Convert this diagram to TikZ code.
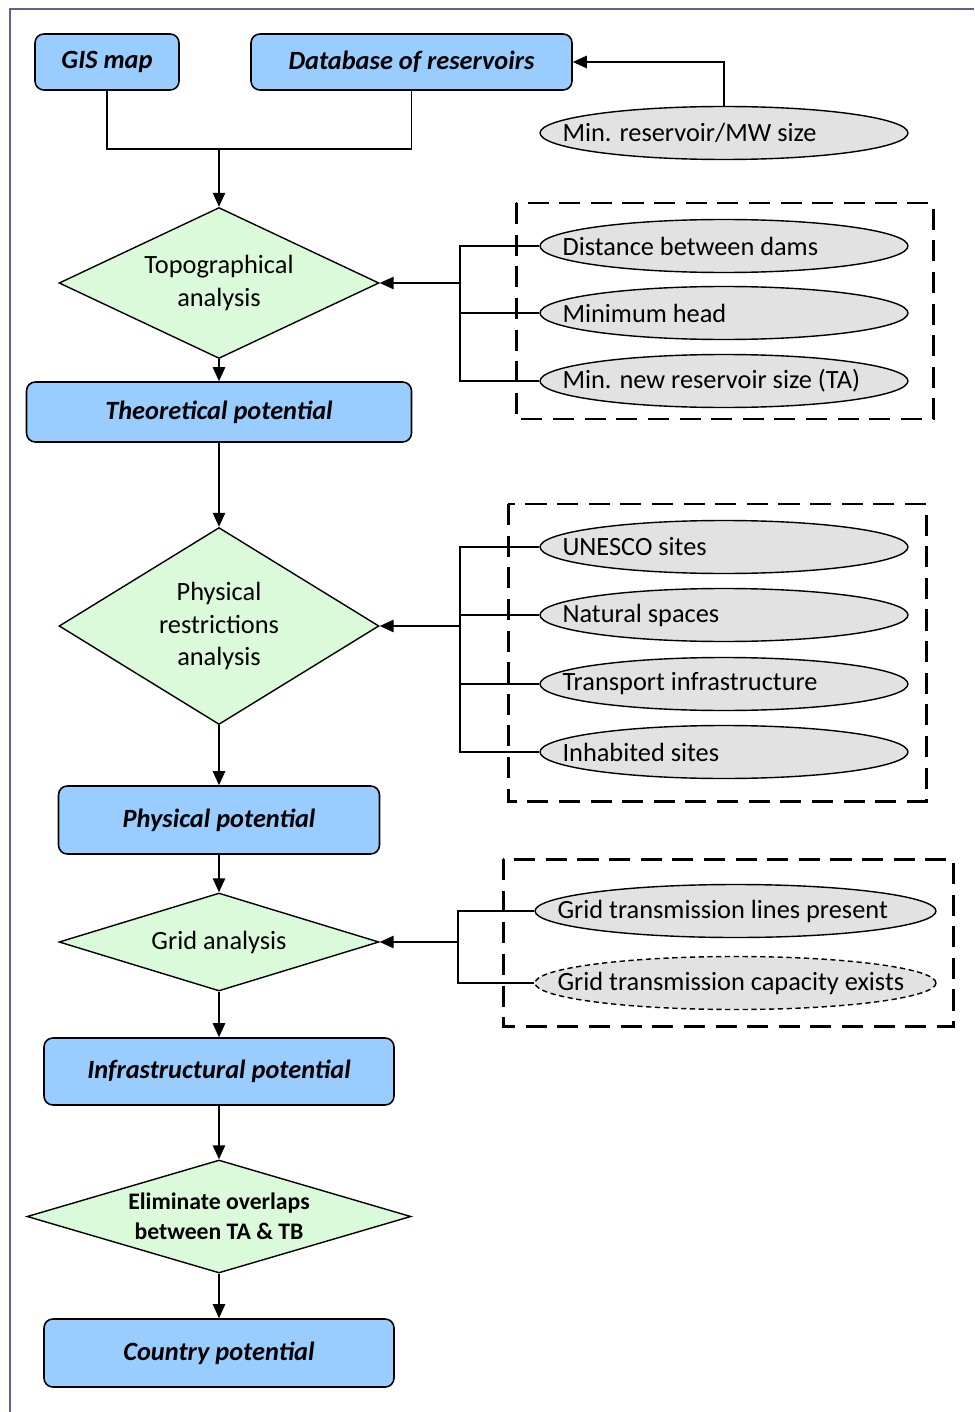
\documentclass[tikz,border=0pt]{standalone}
\usepackage{fontspec}
\setmainfont{Carlito}
\usetikzlibrary{shapes.geometric,arrows.meta}
\definecolor{boxblue}{RGB}{153,204,255}
\definecolor{diagreen}{RGB}{218,250,218}
\definecolor{ovalgray}{RGB}{226,226,226}
\definecolor{framepurple}{RGB}{112,88,150}
\tikzset{
  potbox/.style={draw, rounded corners=5pt, fill=boxblue, line width=0.9pt, font=\fontsize{15}{18}\selectfont\bfseries\itshape},
  decision/.style={diamond, draw, fill=diagreen, line width=0.8pt, inner sep=0pt, align=center, font=\fontsize{15}{18.5}\selectfont},
  oval/.style={ellipse, draw, fill=ovalgray, line width=0.8pt, minimum width=7.36cm, minimum height=1.06cm,
    label={[anchor=west, xshift=0.34cm, font=\fontsize{15}{18}\selectfont]west:#1}},
  arr/.style={line width=1.1pt, -{Triangle[length=8pt,width=7pt]}},
  conn/.style={line width=1.1pt},
  critframe/.style={line width=1.7pt, dash pattern=on 12pt off 6pt},
}
\begin{document}
\begin{tikzpicture}[x=0.02cm, y=-0.02cm]
	\useasboundingbox (0,0) rectangle (974,1412);
	\draw[framepurple, line width=1pt] (10,1412) -- (10,9) -- (974,9); % page frame
	% inputs
	\node[potbox, minimum width=2.88cm, minimum height=1.12cm] (gis) at (107,62) {GIS map};
	\node[potbox, minimum width=6.42cm, minimum height=1.12cm] (db) at (411.5,62) {Database of reservoirs};
	\node[oval={Min. reservoir/MW size}] (minres) at (724,133) {};
	% criteria frames
	\draw[critframe] (516,203) rectangle (933,419);
	\draw[critframe] (508,504) rectangle (926,801);
	\draw[critframe] (503,859) rectangle (953,1026);
	% main chain
	\node[decision, minimum width=6.4cm, minimum height=3.02cm, aspect=2.1] (topo) at (219,283) {Topographical\\analysis};
	\node[potbox, minimum width=7.7cm, minimum height=1.2cm] (theo) at (219,412) {Theoretical potential};
	\node[decision, minimum width=6.4cm, minimum height=3.94cm, aspect=1.6] (phys) at (219,626) {Physical\\restrictions\\analysis};
	\node[potbox, minimum width=6.42cm, minimum height=1.36cm] (physpot) at (219,820) {Physical potential};
	\node[decision, minimum width=6.4cm, minimum height=1.96cm, aspect=3.2] (grid) at (219,942) {Grid analysis};
	\node[potbox, minimum width=7cm, minimum height=1.34cm] (infra) at (219,1071.5) {Infrastructural potential};
	\node[decision, minimum width=7.68cm, minimum height=2.26cm, aspect=3.4, font=\fontsize{13.5}{17}\selectfont\bfseries] (elim) at (219,1216.5) {Eliminate overlaps\\between TA \& TB};
	\node[potbox, minimum width=7cm, minimum height=1.36cm] (country) at (219,1353) {Country potential};
	% criteria
	\node[oval={Distance between dams}] (dist) at (724,246) {};
	\node[oval={Minimum head}] (head) at (724,313) {};
	\node[oval={Min. new reservoir size (TA)}] (newres) at (724,381) {};
	\node[oval={UNESCO sites}] (unesco) at (724,547) {};
	\node[oval={Natural spaces}] (natural) at (724,615) {};
	\node[oval={Transport infrastructure}] (transport) at (724,684) {};
	\node[oval={Inhabited sites}] (inhabited) at (724,752) {};
	\node[oval={Grid transmission lines present}, minimum width=8.02cm] (lines) at (735.5,911) {};
	\node[oval={Grid transmission capacity exists}, minimum width=8.02cm, dash pattern=on 3pt off 2pt] (capacity) at (735.5,983) {};
	% brackets
	\coordinate (merge) at (219,149);
	\coordinate (b1) at (460,283);
	\coordinate (b2) at (460,626);
	\coordinate (b3) at (458,942);
	% connectors
	\draw[conn] (gis.south) |- (merge) -| (db.south);
	\draw[arr] (merge) -- (topo.north);
	\draw[arr] (minres.north) |- (db.east);
	\draw[conn] (dist.west) -- (dist.west -| b1) -- (newres.west -| b1) -- (newres.west);
	\draw[conn] (head.west) -- (head.west -| b1);
	\draw[arr] (b1) -- (topo.east);
	\draw[conn] (unesco.west) -- (unesco.west -| b2) -- (inhabited.west -| b2) -- (inhabited.west);
	\draw[conn] (natural.west) -- (natural.west -| b2) (transport.west) -- (transport.west -| b2);
	\draw[arr] (b2) -- (phys.east);
	\draw[conn] (lines.west) -- (lines.west -| b3) -- (capacity.west -| b3) -- (capacity.west);
	\draw[arr] (b3) -- (grid.east);
	\draw[arr] (topo.south) -- (theo.north);
	\draw[arr] (theo.south) -- (phys.north);
	\draw[arr] (phys.south) -- (physpot.north);
	\draw[arr] (physpot.south) -- (grid.north);
	\draw[arr] (grid.south) -- (infra.north);
	\draw[arr] (infra.south) -- (elim.north);
	\draw[arr] (elim.south) -- (country.north);
\end{tikzpicture}
\end{document}
